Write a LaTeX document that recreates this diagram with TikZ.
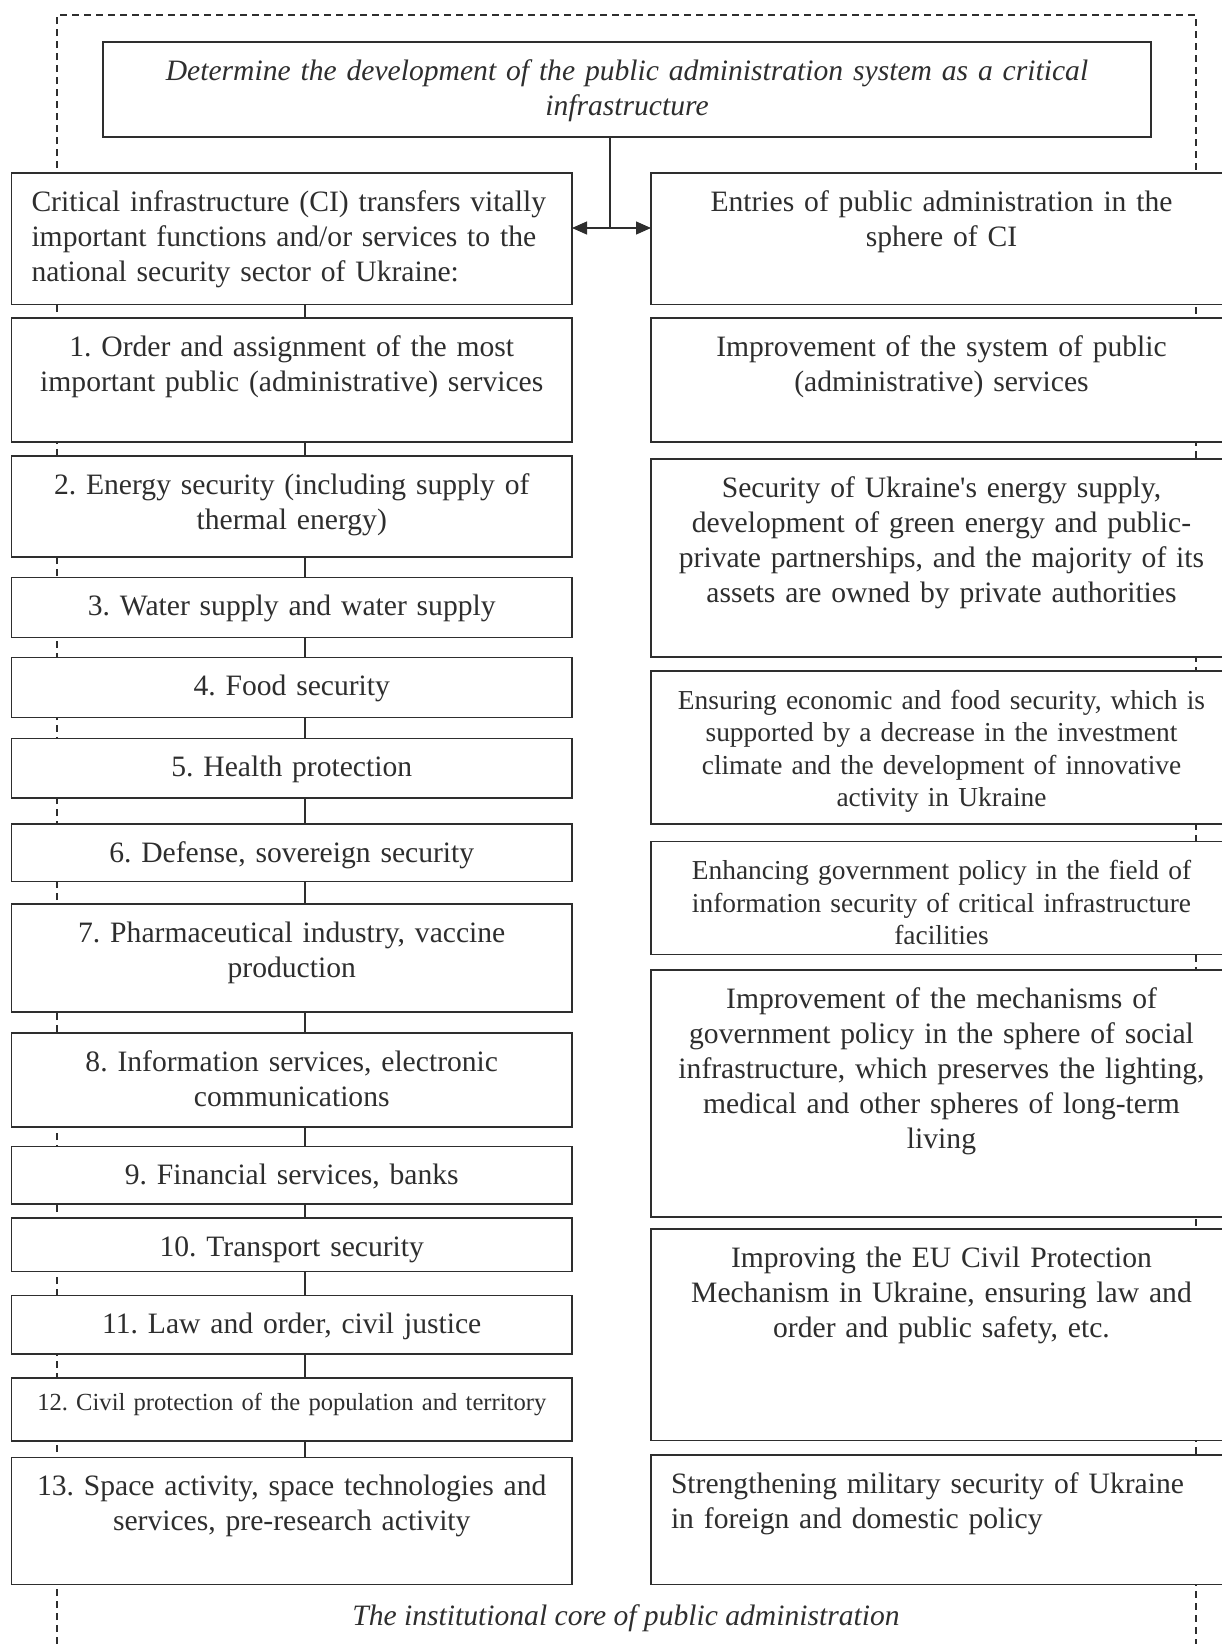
\documentclass[tikz,border=0pt]{standalone}
\usepackage{fontspec}
\setmainfont{Liberation Serif}
\usetikzlibrary{positioning,arrows.meta}
\definecolor{ink}{gray}{0.18}
\frenchspacing

\begin{document}
\begin{tikzpicture}[
  x=1pt, y=-1pt,
  font=\fontsize{29.6}{35}\selectfont,
  text=ink,
  cell/.style={
    rectangle, draw=ink, fill=white, line width=1.3pt,
    outer sep=0pt, inner xsep=20pt, inner ysep=0pt,
    align=center, text height=38pt, text depth={#1-38pt}
  },
  lft/.style={cell=#1, text width=520.5pt, minimum width=560.5pt},
  rgt/.style={cell=#1, text width=541pt, minimum width=581pt},
  sml/.style={font=\fontsize{27.4}{32.5}\selectfont},
  tny/.style={font=\fontsize{24.6}{29}\selectfont},
  lnk/.style={draw=ink, line width=1.3pt},
  arr/.style={{Triangle[length=15pt,width=13pt]}-{Triangle[length=15pt,width=13pt]}, draw=ink, line width=1.3pt},
  frm/.style={draw=ink, line width=1.2pt, dash pattern=on 7pt off 5pt}
]
\useasboundingbox (0,0) rectangle (1221,1644);

% dashed frame of the institutional core
\draw[frm] (57,1644) -- (57,15) -- (1196,15) -- (1196,1644);

\node[cell=95pt, text width=1008pt, anchor=north west,
  font=\fontsize{29.6}{35}\selectfont\itshape] (goal) at (103,42)
  {Determine the development of the public administration system as a critical\\ infrastructure};

% left column: functions and services
\node[lft=131.5pt, align=left, anchor=north west] (lhdr) at (11.5,173)
  {Critical infrastructure (CI) transfers vitally\\ important functions and/or services to the\\ national security sector of Ukraine:};
\node[lft=124pt, below=13.5pt of lhdr] (f1) {1. Order and assignment of the most\\ important public (administrative) services};
\node[lft=101pt, below=14pt of f1] (f2) {2. Energy security (including supply of\\ thermal energy)};
\node[lft=60pt, below=20.5pt of f2] (f3) {3. Water supply and water supply};
\node[lft=60pt, below=20pt of f3] (f4) {4. Food security};
\node[lft=59.5pt, below=21pt of f4] (f5) {5. Health protection};
\node[lft=57.5pt, below=26pt of f5] (f6) {6. Defense, sovereign security};
\node[lft=108pt, below=22.5pt of f6] (f7) {7. Pharmaceutical industry, vaccine\\ production};
\node[lft=94pt, below=21pt of f7] (f8) {8. Information services, electronic\\ communications};
\node[lft=57.5pt, below=19.5pt of f8] (f9) {9. Financial services, banks};
\node[lft=53.5pt, below=14pt of f9] (f10) {10. Transport security};
\node[lft=58.5pt, below=24pt of f10] (f11) {11. Law and order, civil justice};
\node[lft=63pt, tny, text height=32pt, text depth=31pt, below=24pt of f11] (f12) {12. Civil protection of the population and territory};
\node[lft=127pt, below=16.5pt of f12] (f13) {13. Space activity, space technologies and\\ services, pre-research activity};

% right column: entries of public administration
\node[rgt=131.5pt, anchor=north west] (rhdr) at (651,173)
  {Entries of public administration in the\\ sphere of CI};
\node[rgt=124pt, below=13.5pt of rhdr] (e1) {Improvement of the system of public\\ (administrative) services};
\node[rgt=198pt, below=17pt of e1] (e2) {Security of Ukraine\textquotesingle s energy supply,\\ development of green energy and public-\\ private partnerships, and the majority of its\\ assets are owned by private authorities};
\node[rgt=153pt, sml, below=14pt of e2] (e3) {Ensuring economic and food security, which is\\ supported by a decrease in the investment\\ climate and the development of innovative\\ activity in Ukraine};
\node[rgt=113pt, sml, below=17.5pt of e3] (e4) {Enhancing government policy in the field of\\ information security of critical infrastructure\\ facilities};
\node[rgt=247pt, below=15.5pt of e4] (e5) {Improvement of the mechanisms of\\ government policy in the sphere of social\\ infrastructure, which preserves the lighting,\\ medical and other spheres of long-term\\ living};
\node[rgt=211.5pt, below=12pt of e5] (e6) {Improving the EU Civil Protection\\ Mechanism in Ukraine, ensuring law and\\ order and public safety, etc.};
\node[rgt=129.5pt, align=left, below=14.5pt of e6] (e7) {Strengthening military security of Ukraine\\ in foreign and domestic policy};

\node[font=\fontsize{29.6}{35}\selectfont\itshape] (core) at (626,1618) {The institutional core of public administration};

% links
\coordinate (tee) at (610,228);
\coordinate (spine) at (305,0);
\draw[lnk] (goal.south -| tee) -- (tee);
\draw[arr] (lhdr.east |- tee) -- (rhdr.west |- tee);

\draw[lnk] (lhdr.south -| spine) -- (f1.north -| spine);
\draw[lnk] (f1.south -| spine) -- (f2.north -| spine);
\draw[lnk] (f2.south -| spine) -- (f3.north -| spine);
\draw[lnk] (f3.south -| spine) -- (f4.north -| spine);
\draw[lnk] (f4.south -| spine) -- (f5.north -| spine);
\draw[lnk] (f5.south -| spine) -- (f6.north -| spine);
\draw[lnk] (f6.south -| spine) -- (f7.north -| spine);
\draw[lnk] (f7.south -| spine) -- (f8.north -| spine);
\draw[lnk] (f8.south -| spine) -- (f9.north -| spine);
\draw[lnk] (f9.south -| spine) -- (f10.north -| spine);
\draw[lnk] (f10.south -| spine) -- (f11.north -| spine);
\draw[lnk] (f11.south -| spine) -- (f12.north -| spine);
\draw[lnk] (f12.south -| spine) -- (f13.north -| spine);

\end{tikzpicture}
\end{document}
